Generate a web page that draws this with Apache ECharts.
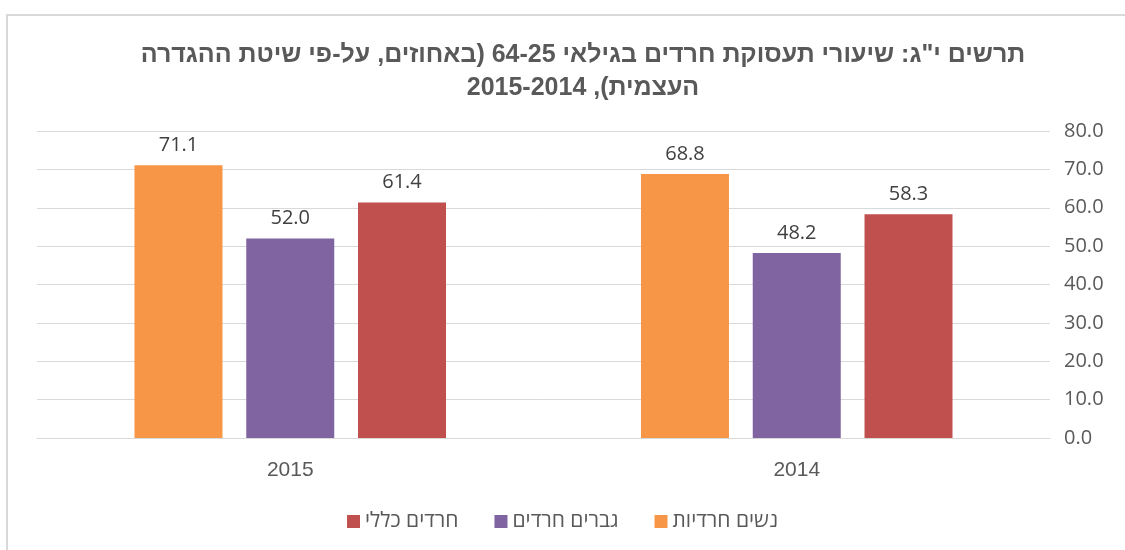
<!DOCTYPE html>
<html dir="rtl">
<head>
<meta charset="utf-8">
<script src="https://cdn.jsdelivr.net/npm/echarts@6/dist/echarts.min.js"></script>
<style>html,body{margin:0;padding:0;background:#fff;}#c{width:1125px;height:550px;}</style>
</head>
<body>
<div id="c"></div>
<script>
const titleLines = ['תרשים י"ג: שיעורי תעסוקת חרדים בגילאי 64-25 (באחוזים, על-פי שיטת ההגדרה', 'העצמית), 2015-2014'];
const categories = ['2015', '2014'];
const seriesNames = ['נשים חרדיות', 'גברים חרדים', 'חרדים כללי'];
const women = [71.1, 68.8];
const men = [52.0, 48.2];
const total = [61.4, 58.3];
const colors = ['#F79646', '#8064A2', '#C0504D'];
const yTicks = { min: 0, max: 80, interval: 10 };

const chart = echarts.init(document.getElementById('c'), null, { renderer: 'canvas' });
const values = [women, men, total];
const font = '"Open Sans", "Liberation Sans", "DejaVu Sans", sans-serif';
const titleFont = '"Liberation Sans", Arial, sans-serif';
chart.setOption({
  animation: false,
  backgroundColor: '#fff',
  graphic: [{
    type: 'rect', silent: true, z: -1,
    shape: { x: 7, y: 15, width: 1300, height: 700 },
    style: { fill: 'none', stroke: '#d9d9d9', lineWidth: 2 }
  }],
  title: titleLines.map((t, i) => ({
    text: t,
    left: 578, top: 35 + i * 33,
    textAlign: 'center',
    textStyle: { fontFamily: titleFont, fontWeight: 'bold', fontSize: 25, color: '#595959', lineHeight: 30 }
  })),
  legend: {
    data: seriesNames.slice().reverse(),
    bottom: 13, left: 'center',
    itemWidth: 13, itemHeight: 13, itemGap: 36,
    icon: 'rect',
    textStyle: { fontFamily: font, fontSize: 21, color: '#595959' }
  },
  grid: { left: 37, right: 75, top: 131, bottom: 112, containLabel: false },
  xAxis: {
    type: 'category', data: categories,
    axisLine: { lineStyle: { color: '#d9d9d9', width: 1 } },
    axisTick: { show: false },
    axisLabel: { fontFamily: titleFont, fontSize: 21, color: '#595959', margin: 22 }
  },
  yAxis: {
    type: 'value', position: 'right', min: yTicks.min, max: yTicks.max, interval: yTicks.interval,
    axisLine: { show: false }, axisTick: { show: false },
    splitLine: { lineStyle: { color: '#d9d9d9', width: 1 } },
    axisLabel: { fontFamily: font, fontSize: 20, color: '#595959', margin: 14, formatter: v => v.toFixed(1) }
  },
  series: seriesNames.map((n, i) => ({
    name: n, type: 'bar', data: values[i],
    barWidth: 88, barGap: '27%',
    itemStyle: { color: colors[i] },
    label: { show: true, position: 'top', distance: 10, fontFamily: font, fontSize: 20, color: '#404040', formatter: p => p.value.toFixed(1) }
  }))
});
</script>
</body>
</html>
